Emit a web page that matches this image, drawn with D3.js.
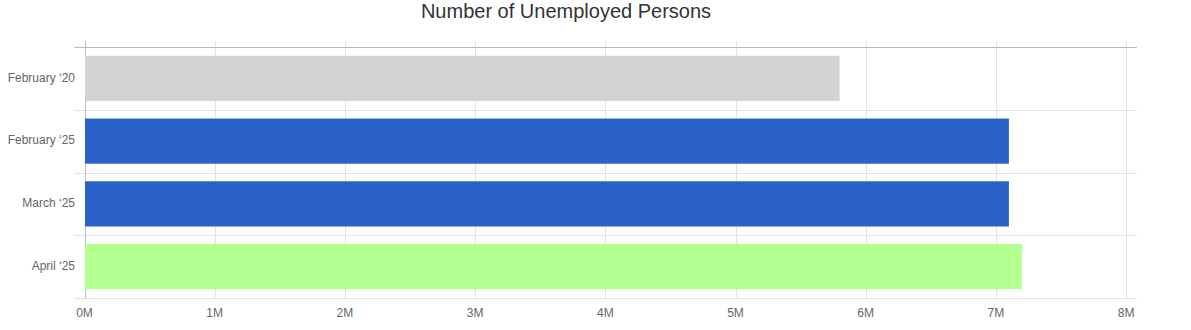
<!DOCTYPE html>
<html><head><meta charset="utf-8">
<script src="https://cdn.jsdelivr.net/npm/d3@7"></script>
<style>body{margin:0;background:#fff;font-family:"Liberation Sans",Arial,sans-serif;}</style>
</head><body><svg id="c" width="1191" height="330"></svg>
<script>
const categories = ["February \u201820", "February \u201825", "March \u201825", "April \u201825"];
const values = [5.8, 7.1, 7.1, 7.2];
const colors = ["#d3d3d3", "#2a61c9", "#2a61c9", "#b3ff8f"];
const xTicks = [0, 1, 2, 3, 4, 5, 6, 7, 8];
const title = "Number of Unemployed Persons";

const svg = d3.select("#c");
const m = {left: 84.5, right: 1137, top: 47, bottom: 298};
const x = d3.scaleLinear().domain([0, 8]).range([m.left, m.left + 8 * 130.2]);
const y = d3.scaleBand().domain(categories).range([m.top, m.bottom]).paddingInner(0.28).paddingOuter(0.14);

svg.append("text").attr("x", 566).attr("y", 18).attr("text-anchor", "middle")
  .attr("font-size", 20).attr("fill", "#333").text(title);

// vertical grid
svg.append("g").selectAll("line").data(xTicks).join("line")
  .attr("x1", d => Math.round(x(d)) + 0.5).attr("x2", d => Math.round(x(d)) + 0.5)
  .attr("y1", 41).attr("y2", m.bottom).attr("stroke", "#e3e3e3");

// horizontal grid (band boundaries)
const step = (m.bottom - m.top) / categories.length;
const hb = d3.range(1, categories.length + 1).map(i => m.top + i * step);
svg.append("g").selectAll("line").data(hb).join("line")
  .attr("x1", 74).attr("x2", m.right)
  .attr("y1", d => Math.round(d) + 0.5).attr("y2", d => Math.round(d) + 0.5).attr("stroke", "#e3e3e3");

// top axis line
svg.append("line").attr("x1", 74).attr("x2", m.right).attr("y1", m.top + 0.5).attr("y2", m.top + 0.5).attr("stroke", "#bdbdbd");
// left axis line
svg.append("line").attr("x1", Math.round(x(0)) + 0.5).attr("x2", Math.round(x(0)) + 0.5).attr("y1", 41).attr("y2", m.bottom).attr("stroke", "#bdbdbd");

// bars
svg.append("g").selectAll("rect").data(values).join("rect")
  .attr("x", x(0) + 0.5).attr("y", (d, i) => y(categories[i]))
  .attr("width", d => x(d) - x(0) - 0.5).attr("height", y.bandwidth())
  .attr("fill", (d, i) => colors[i]);

// y labels
svg.append("g").selectAll("text").data(categories).join("text")
  .attr("x", 75).attr("y", d => y(d) + y.bandwidth() / 2 - 1).attr("dy", "0.35em")
  .attr("text-anchor", "end").attr("font-size", 12).attr("fill", "#666").text(d => d);

// x labels
svg.append("g").selectAll("text").data(xTicks).join("text")
  .attr("x", d => x(d)).attr("y", 317).attr("text-anchor", "middle")
  .attr("font-size", 12).attr("fill", "#666").text(d => d + "M");
</script></body></html>
